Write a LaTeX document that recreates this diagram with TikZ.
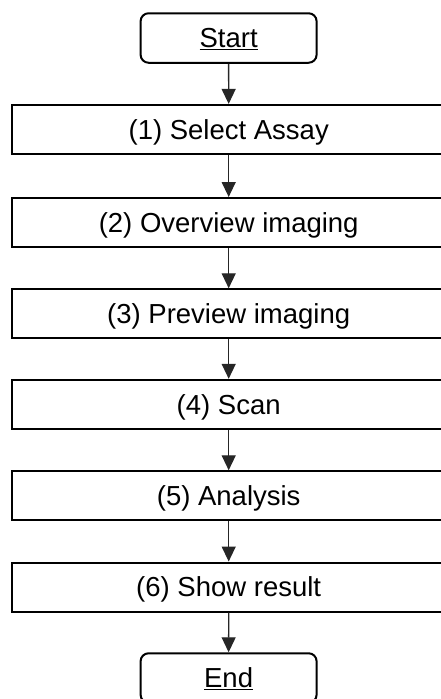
\documentclass[tikz,border=0pt]{standalone}
\usepackage{fontspec}
\setmainfont{Liberation Sans}
\usetikzlibrary{arrows.meta}
\begin{document}
\begin{tikzpicture}[x=1pt,y=-1pt,
  txt/.style={font=\fontsize{27.5}{32}\selectfont,text height=19.7pt,text depth=0pt},
  stepbox/.style={txt,draw=black,line width=2pt,rectangle,minimum width=434pt,minimum height=49pt,inner sep=0pt},
  termbox/.style={txt,draw=black,line width=2pt,rectangle,rounded corners=8pt,minimum width=176pt,minimum height=49.5pt,inner sep=0pt},
  flow/.style={draw=black!85,line width=1.3pt,-{Triangle[width=14pt,length=15pt]}}]
\useasboundingbox (0,0) rectangle (441,699);
\begin{scope}
\clip (0,0) rectangle (441,699);
\node[termbox] (start) at (228.6,38) {\underline{Start}};
\node[stepbox] (s1) at (228.7,129.4) {(1) Select Assay};
\node[stepbox] (s2) at (228.7,222.5) {(2) Overview imaging};
\node[stepbox] (s3) at (228.7,313.8) {(3) Preview imaging};
\node[stepbox] (s4) at (228.7,404.3) {(4) Scan};
\node[stepbox] (s5) at (228.7,495.8) {(5) Analysis};
\node[stepbox] (s6) at (228.7,587) {(6) Show result};
\node[termbox] (end) at (228.6,678) {\underline{End}};
\draw[flow] (start) -- (s1);
\draw[flow] (s1) -- (s2);
\draw[flow] (s2) -- (s3);
\draw[flow] (s3) -- (s4);
\draw[flow] (s4) -- (s5);
\draw[flow] (s5) -- (s6);
\draw[flow] (s6) -- (end);
\end{scope}
\end{tikzpicture}
\end{document}
